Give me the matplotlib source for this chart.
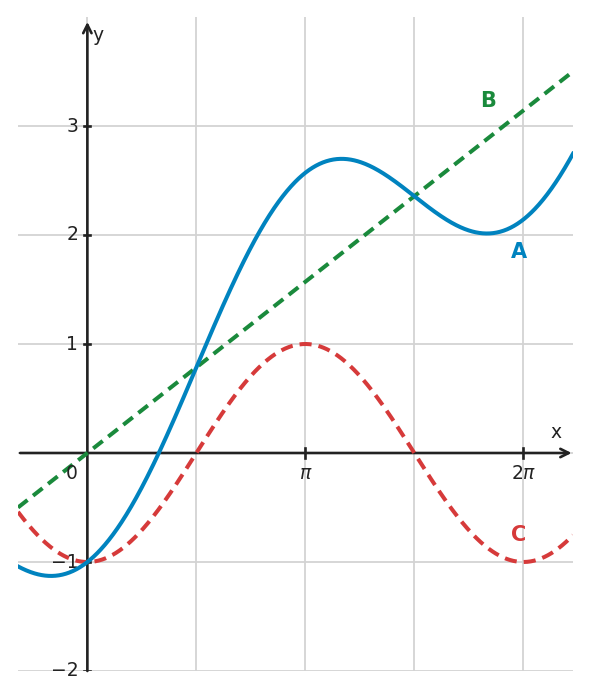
import numpy as np
import matplotlib
matplotlib.use("Agg")
import matplotlib.pyplot as plt

# Function parameters
slope_B = 0.5          # B: y = slope_B * x
amp_C = 1.0            # C: y = -amp_C * cos(x)
# A = B + C
x_range = (-1.0, 7.0)
y_range = (-2.0, 4.0)
xtick_vals = [np.pi, 2 * np.pi]
xtick_labels = [r"$\pi$", r"$2\pi$"]
ytick_vals = [-2, -1, 1, 2, 3]
ytick_labels = ["\u22122", "\u22121", "1", "2", "3"]

blue = "#0083bf"
green = "#1a8a3c"
red = "#d63a3a"
axis_col = "#222222"
grid_col = "#d3d3d3"

x = np.linspace(x_range[0], x_range[1], 800)
yB = slope_B * x
yC = -amp_C * np.cos(x)
yA = yB + yC

fig = plt.figure(figsize=(5.90, 6.99), dpi=100)
ax = fig.add_axes([18 / 590, 28 / 699, 555 / 590, 654 / 699])
ax.set_xlim(*x_range)
ax.set_ylim(*y_range)
for s in ax.spines.values():
    s.set_visible(False)
ax.set_xticks([])
ax.set_yticks([])

# grid
for gx in [0, np.pi / 2, np.pi, 3 * np.pi / 2, 2 * np.pi]:
    ax.axvline(gx, color=grid_col, lw=1.3, zorder=0)
for gy in [-2, -1, 0, 1, 2, 3]:
    ax.axhline(gy, color=grid_col, lw=1.3, zorder=0)

# curves
lw = 2.9
ax.plot(x, yB, color=green, lw=lw, ls=(0, (3.0, 1.75)), zorder=3)
ax.plot(x, yC, color=red, lw=lw, ls=(0, (3.0, 1.75)), zorder=3)
ax.plot(x, yA, color=blue, lw=lw, zorder=4)

# axes with arrows
ax.annotate("", xy=(6.98, 0), xytext=(-0.97, 0),
            arrowprops=dict(arrowstyle="->,head_length=0.6,head_width=0.3", color=axis_col, lw=1.9,
                            shrinkA=0, shrinkB=0), zorder=2)
ax.annotate("", xy=(0, 3.955), xytext=(0, -2.0),
            arrowprops=dict(arrowstyle="->,head_length=0.6,head_width=0.3", color=axis_col, lw=1.9,
                            shrinkA=0, shrinkB=0), zorder=2)

# ticks
tick_half_x = 0.045
tick_half_y = 0.05
for tv, tl in zip(xtick_vals, xtick_labels):
    ax.plot([tv, tv], [-tick_half_y, tick_half_y], color=axis_col, lw=1.9, zorder=2)
    ax.text(tv, -0.1, tl, ha="center", va="top", fontsize=13.5, color=axis_col)
for tv, tl in zip(ytick_vals, ytick_labels):
    ax.plot([-tick_half_x, tick_half_x], [tv, tv], color=axis_col, lw=1.9, zorder=2)
    ax.text(-0.13, tv, tl, ha="right", va="center", fontsize=13.5, color=axis_col)
ax.text(-0.14, -0.1, "0", ha="right", va="top", fontsize=13.5, color=axis_col)

ax.text(0.07, 3.83, "y", ha="left", va="center", fontsize=13.5, color=axis_col)
ax.text(6.75, 0.1, "x", ha="center", va="bottom", fontsize=13.5, color=axis_col)

# labels
ax.text(6.22, 1.84, "A", color=blue, fontsize=15, fontweight="bold", ha="center", va="center")
ax.text(5.78, 3.23, "B", color=green, fontsize=15, fontweight="bold", ha="center", va="center")
ax.text(6.22, -0.75, "C", color=red, fontsize=15, fontweight="bold", ha="center", va="center")

fig.savefig("out.png", dpi=100)
